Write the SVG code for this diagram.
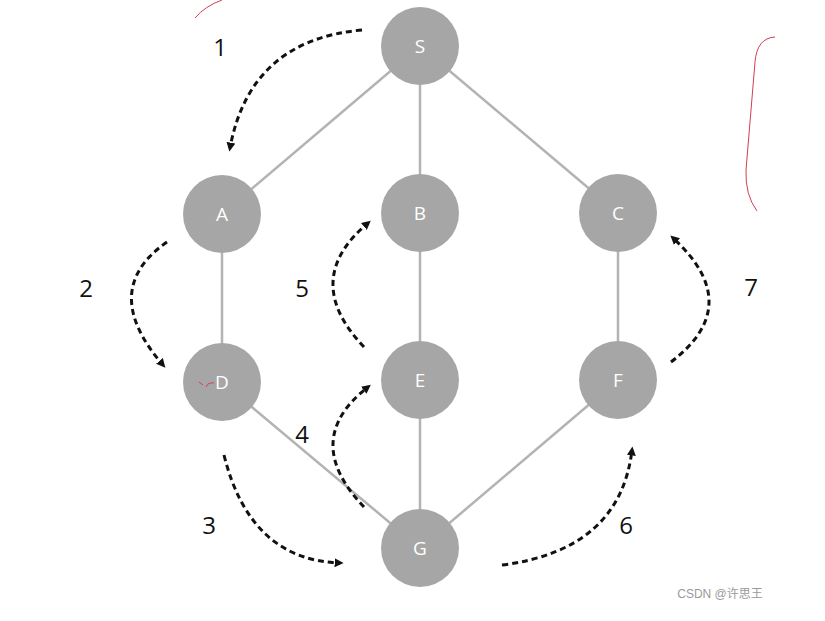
<svg xmlns="http://www.w3.org/2000/svg" width="825" height="621" viewBox="0 0 825 621">
<style>
.edge{stroke:#b3b3b3;stroke-width:2.5;fill:none}
.node circle{fill:#a6a6a6}
.node text{fill:#fff;font-family:"Open Sans","Liberation Sans",sans-serif;font-size:19px;text-anchor:middle;dominant-baseline:central}
.step{stroke:#111;stroke-width:3;fill:none;stroke-dasharray:6 4;marker-end:url(#ah)}
.num{font-family:"Open Sans","Liberation Sans",sans-serif;font-size:24px;fill:#111;text-anchor:middle;dominant-baseline:central}
.red{stroke:#d04050;stroke-width:1;fill:none}
</style>
<defs>
<marker id="ah" viewBox="0 0 10 10" refX="6" refY="5" markerWidth="3" markerHeight="3" orient="auto" markerUnits="strokeWidth">
<path d="M0,0 L10,5 L0,10 z" fill="#111"/>
</marker>
</defs>
<rect width="825" height="621" fill="#fff"/>
<g id="edges">
<line class="edge" x1="420" y1="46" x2="222" y2="214"/>
<line class="edge" x1="420" y1="46" x2="420" y2="213"/>
<line class="edge" x1="420" y1="46" x2="618" y2="213"/>
<line class="edge" x1="222" y1="214" x2="222" y2="382"/>
<line class="edge" x1="420" y1="213" x2="420" y2="380"/>
<line class="edge" x1="618" y1="213" x2="618" y2="380"/>
<line class="edge" x1="222" y1="382" x2="420" y2="548"/>
<line class="edge" x1="420" y1="380" x2="420" y2="548"/>
<line class="edge" x1="618" y1="380" x2="420" y2="548"/>
</g>
<g id="node-S" class="node"><circle cx="420" cy="46" r="39"/><text x="420" y="46">S</text></g>
<g id="node-A" class="node"><circle cx="222" cy="214" r="39"/><text x="222" y="214">A</text></g>
<g id="node-B" class="node"><circle cx="420" cy="213" r="39"/><text x="420" y="213">B</text></g>
<g id="node-C" class="node"><circle cx="618" cy="213" r="39"/><text x="618" y="213">C</text></g>
<g id="node-D" class="node"><circle cx="222" cy="382" r="39"/><text x="222" y="382">D</text></g>
<g id="node-E" class="node"><circle cx="420" cy="380" r="39"/><text x="420" y="380">E</text></g>
<g id="node-F" class="node"><circle cx="618" cy="380" r="39"/><text x="618" y="380">F</text></g>
<g id="node-G" class="node"><circle cx="420" cy="548" r="39"/><text x="420" y="548">G</text></g>
<g id="steps">
<path class="step" d="M362,30 Q250,40 230,148"/>
<path class="step" d="M167,242 Q98,290 163,365"/>
<path class="step" d="M224,455 Q250,560 340,563"/>
<path class="step" d="M364,507 Q300,440 368,387"/>
<path class="step" d="M364,347 Q300,280 368,223"/>
<path class="step" d="M502,565 Q620,550 632,450"/>
<path class="step" d="M671,362 Q746,305 673,238"/>
</g>
<g id="labels">
<text class="num" x="220" y="46">1</text>
<text class="num" x="86" y="287">2</text>
<text class="num" x="209" y="524">3</text>
<text class="num" x="302" y="433">4</text>
<text class="num" x="302" y="287">5</text>
<text class="num" x="626" y="524">6</text>
<text class="num" x="751" y="286">7</text>
</g>
<g id="marks">
<path class="red" d="M195,18 Q205,6 222,0"/>
<path class="red" d="M775,37 Q757,38 755,62 L746,170 Q745,195 757,211"/>
<path class="red" d="M199,382 L203,385 M206,387 Q208,382 214,383"/>
</g>
<text x="720" y="594" font-family="'Liberation Sans','Noto Sans CJK SC',sans-serif" font-size="12" fill="#9a9a9a" text-anchor="middle" dominant-baseline="central">CSDN @许思王</text>
</svg>
